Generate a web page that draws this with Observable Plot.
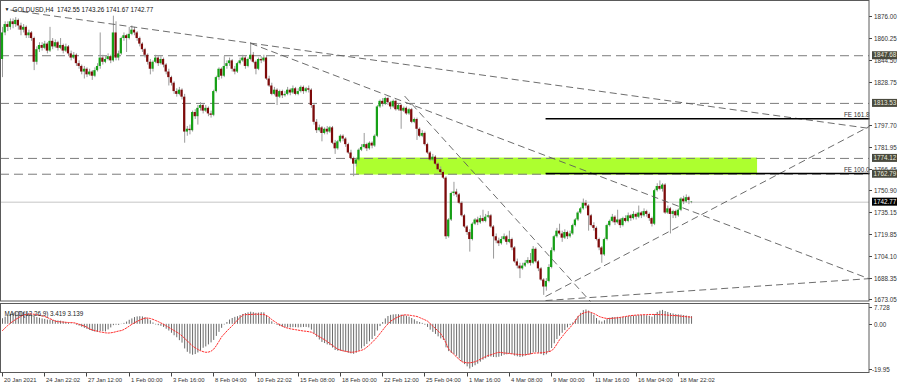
<!DOCTYPE html>
<html><head><meta charset="utf-8">
<script src="https://cdn.jsdelivr.net/npm/d3@7"></script>
<script src="https://cdn.jsdelivr.net/npm/@observablehq/plot@0.6"></script>
<style>
body{margin:0;background:#fff}
#chart{position:relative;width:900px;height:387px;overflow:hidden;background:#fff}
#chart svg{position:absolute;left:0;background:transparent}
</style></head><body><div id="chart"></div>
<script>
// ---------------- DATA ----------------
const symbolName = "GOLDUSD,H4";
const lastQuote = ["1742.55", "1743.26", "1741.67", "1742.77"];

const opens = [
1845,1864,1870,1868,1872,1870,1873,1869,1866,1868,
1862,1864,1860,1843,1852,1855,1853,1856,1851,1858,
1854,1857,1853,1855,1851,1854,1849,1846,1848,1842,
1840,1836,1838,1834,1836,1833,1837,1840,1846,1843,
1845,1847,1844,1864,1846,1849,1860,1862,1860,1863,
1866,1864,1860,1856,1852,1848,1843,1838,1843,1846,
1842,1845,1841,1836,1832,1828,1822,1820,1823,1818,
1793,1795,1794,1807,1804,1810,1812,1808,1810,1806,
1805,1822,1832,1838,1833,1840,1842,1844,1838,1836,
1842,1844,1846,1840,1845,1848,1843,1838,1845,1844,
1846,1831,1826,1820,1823,1818,1822,1819,1820,1823,
1821,1824,1820,1822,1825,1822,1824,1823,1812,1800,
1794,1796,1792,1795,1793,1796,1785,1781,1786,1790,
1788,1784,1778,1774,1770,1773,1780,1782,1784,1781,
1785,1783,1790,1811,1815,1813,1817,1814,1811,1815,
1809,1812,1808,1810,1806,1809,1800,1802,1795,1790,
1792,1784,1778,1773,1775,1770,1766,1764,1760,1718,
1730,1749,1750,1748,1742,1733,1725,1721,1716,1727,
1730,1728,1731,1729,1732,1733,1725,1718,1715,1713,
1716,1718,1714,1716,1710,1700,1697,1695,1697,1699,
1701,1699,1709,1700,1695,1687,1682,1686,1696,1708,
1718,1722,1720,1717,1721,1718,1720,1726,1730,1735,
1738,1742,1740,1733,1726,1724,1716,1710,1705,1716,
1726,1729,1732,1728,1730,1726,1731,1729,1733,1731,
1734,1732,1735,1733,1736,1734,1731,1727,1751,1754,
1752,1755,1735,1738,1734,1736,1733,1737,1745,1743,
1746,1742.55];
const highs = [
1868,1872,1872,1874,1874,1875,1874,1871,1870,1869,
1866,1865,1861,1854,1857,1857,1858,1857,1868,1860,
1859,1858,1860,1856,1856,1855,1851,1850,1849,1844,
1841,1840,1839,1838,1837,1839,1842,1864,1848,1847,
1849,1848,1876,1872,1851,1861,1864,1863,1868,1869,
1868,1865,1861,1857,1853,1849,1845,1844,1848,1847,
1847,1846,1842,1838,1833,1829,1824,1825,1824,1820,
1797,1798,1808,1809,1812,1814,1813,1812,1811,1808,
1823,1833,1839,1839,1847,1844,1846,1845,1840,1843,
1846,1848,1847,1846,1857,1850,1844,1846,1847,1848,
1847,1833,1828,1825,1824,1823,1823,1822,1825,1824,
1826,1825,1824,1826,1826,1825,1826,1824,1813,1802,
1798,1797,1796,1797,1797,1797,1787,1787,1791,1791,
1789,1785,1780,1775,1774,1781,1784,1792,1785,1786,
1786,1791,1812,1816,1817,1818,1818,1815,1816,1816,
1813,1813,1811,1811,1810,1810,1803,1803,1796,1794,
1793,1785,1779,1777,1776,1771,1768,1765,1761,1731,
1750,1757,1752,1749,1743,1734,1726,1723,1728,1731,
1732,1733,1737,1734,1736,1734,1726,1720,1717,1718,
1720,1719,1722,1717,1711,1702,1699,1699,1701,1703,
1706,1711,1710,1701,1696,1688,1688,1698,1710,1719,
1724,1727,1722,1723,1722,1722,1727,1731,1736,1739,
1745,1744,1741,1734,1728,1725,1717,1711,1717,1727,
1730,1734,1733,1737,1731,1732,1733,1735,1734,1736,
1735,1740,1736,1738,1737,1735,1732,1752,1756,1758,
1756,1756,1740,1739,1737,1737,1738,1746,1747,1748,
1747,1743.26];
const lows = [
1832,1862,1865,1866,1867,1868,1866,1862,1864,1860,
1860,1858,1837,1841,1850,1851,1852,1849,1850,1852,
1853,1851,1852,1849,1850,1847,1844,1845,1840,1838,
1834,1831,1832,1833,1830,1832,1836,1838,1841,1842,
1844,1842,1843,1844,1844,1848,1858,1850,1859,1862,
1862,1858,1854,1850,1846,1841,1834,1836,1842,1840,
1841,1839,1834,1826,1826,1820,1818,1819,1816,1785,
1790,1791,1793,1802,1798,1808,1806,1807,1804,1803,
1804,1821,1830,1831,1832,1838,1840,1836,1834,1835,
1841,1843,1838,1839,1844,1842,1834,1837,1842,1843,
1830,1825,1819,1819,1812,1817,1817,1818,1819,1819,
1820,1819,1819,1821,1820,1821,1821,1810,1798,1792,
1793,1786,1791,1791,1792,1784,1777,1780,1785,1786,
1782,1777,1773,1761,1768,1772,1779,1781,1779,1780,
1781,1782,1789,1810,1811,1812,1812,1809,1810,1808,
1808,1795,1807,1805,1805,1799,1799,1787,1789,1789,
1783,1777,1772,1772,1769,1765,1763,1759,1716,1717,
1729,1747,1746,1741,1732,1724,1719,1707,1715,1726,
1726,1727,1728,1728,1731,1724,1702,1713,1711,1712,
1715,1712,1713,1708,1699,1695,1688,1694,1696,1698,
1697,1698,1699,1693,1686,1676,1679,1685,1695,1707,
1717,1719,1714,1716,1716,1717,1719,1725,1729,1734,
1737,1738,1722,1725,1722,1715,1708,1699,1704,1715,
1725,1728,1726,1727,1724,1725,1728,1728,1729,1730,
1730,1731,1731,1732,1732,1729,1725,1726,1750,1751,
1750,1734,1734,1720,1731,1731,1732,1736,1741,1742,
1741,1741.67];
const closes = [
1864,1870,1868,1872,1870,1873,1869,1866,1868,1862,
1864,1860,1843,1852,1855,1853,1856,1851,1858,1854,
1857,1853,1855,1851,1854,1849,1846,1848,1842,1840,
1836,1838,1834,1836,1833,1837,1840,1846,1843,1845,
1847,1844,1864,1846,1849,1860,1862,1860,1863,1866,
1864,1860,1856,1852,1848,1843,1838,1843,1846,1842,
1845,1841,1836,1832,1828,1822,1820,1823,1818,1793,
1795,1794,1807,1804,1810,1812,1808,1810,1806,1805,
1822,1832,1838,1833,1840,1842,1844,1838,1836,1842,
1844,1846,1840,1845,1848,1843,1838,1845,1844,1846,
1831,1826,1820,1823,1818,1822,1819,1820,1823,1821,
1824,1820,1822,1825,1822,1824,1823,1812,1800,1794,
1796,1792,1795,1793,1796,1785,1781,1786,1790,1788,
1784,1778,1774,1770,1773,1780,1782,1784,1781,1785,
1783,1790,1811,1815,1813,1817,1814,1811,1815,1809,
1812,1808,1810,1806,1809,1800,1802,1795,1790,1792,
1784,1778,1773,1775,1770,1766,1764,1760,1718,1730,
1749,1750,1748,1742,1733,1725,1721,1716,1727,1730,
1728,1731,1729,1732,1733,1725,1718,1715,1713,1716,
1718,1714,1716,1710,1700,1697,1695,1697,1699,1701,
1699,1709,1700,1695,1687,1682,1686,1696,1708,1718,
1722,1720,1717,1721,1718,1720,1726,1730,1735,1738,
1742,1740,1733,1726,1724,1716,1710,1705,1716,1726,
1729,1732,1728,1730,1726,1731,1729,1733,1731,1734,
1732,1735,1733,1736,1734,1731,1727,1751,1754,1752,
1755,1735,1738,1734,1736,1733,1737,1745,1743,1746,
1744,1742.77];

// MACD(12,26,9) histogram and signal
const macdMain = [
2.5,3.2,3.8,4.4,4.9,5.3,5.5,5.6,5.4,5.2,
4.8,4.3,3.4,3.0,2.7,
2.4,2.2,1.9,1.9,1.7,1.6,1.5,1.4,1.1,0.8,0.5,0.2,
-0.1,-0.4,-0.8,-1.3,
-1.8,-2.3,-2.7,-3.2,-3.5,-3.6,-3.2,-3.3,-3.4,-2.5,-1.6,
-0.6,-0.4,-0.5,-0.1,0.4,
1.0,1.8,2.4,3.0,
3.3,3.4,3.3,3.0,2.4,1.6,
0.6,-0.3,-0.6,-0.9,-1.4,-2.2,-3.0,
-4.0,-5.1,-6.0,-7.3,-8.4,-11.0,-12.5,-13.3,
-13.8,-13.5,
-12.8,-11.9,-10.7,-10.1,-9.2,-8.3,-7.2,-5.4,-3.6,-1.8,
-0.3,0.8,1.9,2.6,3.1,3.4,3.9,
4.4,4.8,5.1,5.4,5.2,4.9,5.0,5.2,5.1,3.9,
2.6,1.1,0.2,-0.5,
-1.0,-1.3,-1.5,-1.6,-1.6,-1.5,-1.5,-1.6,-1.5,-1.4,-1.4,-1.6,-2.6,
-4.3,-5.8,-7.0,-8.1,-8.6,-9.2,-9.5,-10.6,-11.7,-12.0,
-12.0,-12.3,-12.5,-12.9,-13.2,-13.4,-12.9,
-12.0,-11.0,-10.0,-9.0,-7.8,-6.8,-5.4,-3.0,
-1.0,0.8,2.4,3.5,
4.0,4.2,4.3,4.3,4.1,4.0,3.6,3.2,2.6,2.0,
1.2,0.8,0.4,-0.4,-1.4,
-2.6,-3.6,-4.5,-5.6,-6.5,-7.2,-10.5,
-12.2,-13.0,-13.5,-14.3,-15.4,-16.8,-18.0,-19.0,-19.95,-19.2,
-18.5,-17.8,-16.9,-16.0,-15.4,-14.8,-14.6,
-14.8,-14.9,-14.7,-14.3,-13.8,-13.6,-13.3,-13.5,-14.2,-14.5,
-14.8,-14.6,-14.2,-13.8,-13.6,-12.8,-12.6,-12.9,-13.5,-14.0,-13.6,
-12.6,-10.8,-8.7,-6.8,-5.3,-4.0,-2.8,
-1.6,-0.6,0.6,
2.0,3.5,4.9,6.1,6.4,
5.9,5.0,4.0,2.6,1.5,
1.0,1.6,2.3,2.7,3.0,3.0,3.1,2.9,3.1,
3.2,3.5,3.6,3.7,3.8,3.9,4.0,3.9,3.8,3.6,3.2,4.3,5.3,
5.9,6.2,5.7,5.3,
4.8,4.6,4.3,4.2,4.1,3.9,3.7,3.5,3.419];
const macdSignal = [
-2.8,-1.6,-0.5,0.5,1.4,2.2,2.9,3.6,4.2,
4.4,4.6,4.6,4.5,4.3,4.1,3.8,3.5,
3.0,2.5,2.0,1.4,1.2,1.1,1.0,0.9,0.8,0.8,0.7,
0.4,0.0,-0.4,-0.8,-1.3,-2.1,-2.5,-2.8,-3.1,-3.4,-3.6,-3.8,-3.9,
-3.8,-3.6,-3.3,-3.0,-2.8,-2.3,-1.6,-0.8,0.0,0.7,
1.3,1.9,2.4,2.7,2.8,2.6,2.2,1.7,
1.2,0.6,0.0,-0.7,-1.4,-2.1,-2.8,-3.5,-4.2,
-5.2,-6.3,-7.4,-8.6,-9.7,-10.5,-11.2,-11.8,-12.2,-12.5,
-12.4,-12.0,-11.1,-9.5,-7.6,-5.6,-4.3,-3.0,-1.8,-0.7,
0.6,1.9,3.0,4.2,4.3,4.4,4.4,4.5,4.5,4.5,4.4,4.4,
3.9,3.2,2.1,1.3,0.5,-0.2,-0.8,-1.4,
-1.7,-2.0,-2.2,-2.4,-2.6,-2.8,-3.0,-3.1,-3.3,-3.5,
-4.1,-4.8,-5.5,-6.2,-6.9,-7.7,-8.6,-9.4,-10.3,-11.1,
-11.5,-11.8,-12.1,-12.3,-12.5,-12.4,-12.2,-11.9,-11.6,-11.1,
-10.2,-9.2,-8.1,-6.9,-5.6,-4.1,-2.6,-1.1,0.2,1.4,
2.1,2.8,3.4,3.9,4.2,4.2,4.1,3.9,3.7,3.5,
3.0,2.5,2.0,1.4,0.3,-0.8,-1.9,-3.0,-4.2,-6.0,-8.4,-11.1,
-12.3,-13.5,-14.6,-15.7,-16.7,-17.0,-17.2,-17.2,-17.0,-16.7,
-16.2,-15.6,-15.0,-14.4,-13.9,-13.6,-13.2,-12.8,-12.5,
-12.6,-12.8,-12.9,-13.0,-13.2,-13.3,-13.4,-13.5,-13.6,-13.6,-13.4,-13.2,-12.9,
-12.8,-12.8,-12.7,-12.6,-12.4,-12.2,-11.8,-10.6,-8.8,-6.9,
-5.5,-4.0,-2.6,-1.4,0.0,1.5,3.5,4.4,5.0,5.4,5.6,
5.3,4.8,4.2,3.5,3.1,2.8,2.6,2.6,2.7,2.8,
2.9,3.1,3.3,3.5,3.7,3.9,4.0,4.1,4.2,4.2,4.3,4.3,4.4,4.4,4.4,4.4,
4.3,4.3,4.2,4.1,4.0,3.9,3.9,3.8,3.6,3.5,3.4,3.3,3.139];
const macdTitle = "MACD(12,26,9) 3.419 3.139";

// time axis (bar index of each label)
const dateLabels = ["20 Jan 2021","24 Jan 22:02","27 Jan 12:00","1 Feb 00:00","3 Feb 16:00","8 Feb 04:00","10 Feb 22:02","15 Feb 08:00","18 Feb 00:00","22 Feb 12:00","25 Feb 04:00","1 Mar 16:00","4 Mar 08:00","9 Mar 00:00","11 Mar 16:00","16 Mar 04:00","18 Mar 22:02"];
const dateLabelBars = [0,16,32,48,64,80,96,112,128,144,160,176,192,208,224,240,256];

// price axis
const priceTicks = [1876.00,1860.25,1844.50,1828.75,1797.70,1781.95,1766.45,1750.90,1735.15,1719.85,1704.10,1688.35,1673.05];
const priceTickLabels = ["1876.00","1860.25","1844.50","1828.75","1797.70","1781.95","1766.45","1750.90","1735.15","1719.85","1704.10","1688.35","1673.05"];
const macdTicks = [7.728, 0, -19.95];
const macdTickLabels = ["7.728","0.00","-19.95"];

// horizontal levels with price tags
const levelPrices = [1847.68, 1813.53, 1774.12, 1762.79];
const levelLabels = ["1847.68", "1813.53", "1774.12", "1762.79"];
const currentPrice = 1742.77;
const currentPriceLabel = "1742.77";

// trend lines (bar index / price of both ends)
const trendStartBar   = [3, 94, 152.3, 205.7, 205.7];
const trendStartPrice = [1880.4, 1856.5, 1818.8, 1675.2, 1672.3];
const trendEndBar     = [328.4, 328.4, 222.7, 328.4, 328.4];
const trendEndPrice   = [1795.6, 1687.8, 1671.6, 1797.1, 1688.0];

// Fibonacci expansion lines
const feLabels = ["FE 161.8", "FE 100.0"];
const fePrices = [1802.6, 1763.3];
const feStartBar = [205.7, 205.7];
const feEndBar = [328.4, 328.4];

// highlighted zone
const zoneStartBar = [134.1];
const zoneEndBar = [286];
const zoneLow = [1762.2];
const zoneHigh = [1774.4];

// ---------------- CHART ----------------
const FONT = "'Liberation Sans', Arial, sans-serif";
const xDomain = [-0.76, 328.4];
const n = Math.min(opens.length, highs.length, lows.length, closes.length);
const bars = d3.range(n).map(i => ({i, o: opens[i], h: highs[i], l: lows[i], c: closes[i]}));
const mN = Math.min(macdMain.length, macdSignal.length);
const macdRows = d3.range(mN).map(i => ({i, v: macdMain[i], s: macdSignal[i]}));
const trendRows = trendStartBar.map((b, k) => ({x1: b, y1: trendStartPrice[k], x2: trendEndBar[k], y2: trendEndPrice[k]}));
const feRows = feLabels.map((t, k) => ({t, p: fePrices[k], x1: feStartBar[k], x2: feEndBar[k]}));
const zoneRows = zoneStartBar.map((b, k) => ({x1: b, x2: zoneEndBar[k], y1: zoneLow[k], y2: zoneHigh[k]}));

function frameMark(top, bottom) {
  return (index, scales, values, dims) => {
    const r = dims.width - dims.marginRight;
    return d3.create("svg:rect").attr("x", 0.5).attr("y", top).attr("width", r - 0.5).attr("height", bottom - top)
      .attr("fill", "none").attr("stroke", "#5a5a5a").attr("stroke-width", 1).node();
  };
}

function textGroup(size) {
  return d3.create("svg:g").attr("font-family", FONT).attr("font-size", size).attr("text-anchor", "start");
}

function priceAxis(index, scales, values, dims) {
  const g = textGroup(6.3);
  const x0 = dims.width - dims.marginRight;
  priceTicks.forEach((v, k) => {
    const y = Math.round(scales.y(v)) + 0.5;
    g.append("line").attr("x1", x0).attr("x2", x0 + 3).attr("y1", y).attr("y2", y).attr("stroke", "#444");
    g.append("text").attr("x", x0 + 5).attr("y", y).attr("dy", "0.35em").attr("fill", "#333").text(priceTickLabels[k]);
  });
  const tags = levelPrices.map((v, k) => ({v, t: levelLabels[k], fill: "#4a4a3e", color: "#ececdf"}))
    .concat([{v: currentPrice, t: currentPriceLabel, fill: "#000", color: "#fff"}]);
  for (const tg of tags) {
    const y = scales.y(tg.v);
    g.append("rect").attr("x", x0 + 3).attr("y", y - 4).attr("width", 25).attr("height", 8).attr("fill", tg.fill);
    g.append("text").attr("x", x0 + 4.5).attr("y", y).attr("dy", "0.35em").attr("fill", tg.color).text(tg.t);
  }
  return g.node();
}

function macdAxis(index, scales, values, dims) {
  const g = textGroup(6.3);
  const x0 = dims.width - dims.marginRight;
  macdTicks.forEach((v, k) => {
    const y = Math.round(scales.y(v)) + 0.5;
    g.append("line").attr("x1", x0).attr("x2", x0 + 3).attr("y1", y).attr("y2", y).attr("stroke", "#444");
    g.append("text").attr("x", x0 + (v < 0 ? 3 : 5)).attr("y", y).attr("dy", "0.35em").attr("fill", "#333").text(macdTickLabels[k]);
  });
  return g.node();
}

function dateAxis(bottom) {
  return (index, scales, values, dims) => {
    const g = textGroup(5.9);
    dateLabelBars.forEach((b, k) => {
      const x = Math.round(scales.x(b)) + 0.5;
      g.append("line").attr("x1", x).attr("x2", x).attr("y1", bottom).attr("y2", bottom + 4).attr("stroke", "#444");
      g.append("text").attr("x", x + 1.5).attr("y", bottom + 7.5).attr("dy", "0.35em").attr("fill", "#333").text(dateLabels[k]);
    });
    return g.node();
  };
}

const mainPlot = Plot.plot({
  width: 900, height: 302,
  marginLeft: 0, marginRight: 31, marginTop: 0, marginBottom: 0,
  x: {domain: xDomain, axis: null},
  y: {domain: [1673.05, 1876.00], range: [299, 15.7], axis: null},
  style: {background: "transparent", overflow: "visible"},
  marks: [
    Plot.rect(zoneRows, {x1: "x1", x2: "x2", y1: "y1", y2: "y2", fill: "#adff2f"}),
    Plot.ruleY([currentPrice], {stroke: "#c6c6c6", strokeWidth: 1}),
    Plot.ruleY(levelPrices, {stroke: "#7c7c7c", strokeWidth: 1, strokeDasharray: "9,5"}),
    Plot.ruleX(bars, {x: "i", y1: "l", y2: "h", stroke: "#9a9a9a", strokeWidth: 1}),
    Plot.rect(bars, {x1: d => d.i - 0.42, x2: d => d.i + 0.42, y1: "o", y2: "c",
      fill: d => d.c >= d.o ? "#15a015" : "#7e0a0a"}),
    Plot.link(trendRows, {x1: "x1", y1: "y1", x2: "x2", y2: "y2", stroke: "#5c5c5c", strokeWidth: 0.9, strokeDasharray: "7,4"}),
    Plot.link(feRows, {x1: "x1", y1: "p", x2: "x2", y2: "p", stroke: "#000", strokeWidth: 1.5}),
    Plot.text(feRows, {x: "x2", y: "p", text: "t", textAnchor: "end", dx: 0, dy: -4, fontSize: 6.3, fontFamily: FONT, fill: "#333"}),
    Plot.text([`${symbolName}  ${lastQuote.join(" ")}`], {frameAnchor: "top-left", dx: 12, dy: 7.5, textAnchor: "start", fontSize: 6.3, fontFamily: FONT, fill: "#111"}),
    Plot.text(["\u25BC"], {frameAnchor: "top-left", dx: 4, dy: 6.5, textAnchor: "start", fontSize: 5, fill: "#111"}),
    priceAxis,
    frameMark(0.5, 301)
  ]
});

const macdPlot = Plot.plot({
  width: 900, height: 85,
  marginLeft: 0, marginRight: 31, marginTop: 0, marginBottom: 0,
  x: {domain: xDomain, axis: null},
  y: {domain: [-19.95, 7.728], range: [66.5, 4.5], axis: null},
  style: {background: "transparent", overflow: "visible"},
  marks: [
    Plot.ruleX(macdRows, {x: "i", y1: 0, y2: "v", stroke: "#6a6a6a", strokeWidth: 1}),
    Plot.line(macdRows, {x: "i", y: "s", stroke: "#ff2d2d", strokeWidth: 1, strokeDasharray: "1.5,1.5"}),
    Plot.text([macdTitle], {frameAnchor: "top-left", dx: 4, dy: 9, textAnchor: "start", fontSize: 6.3, fontFamily: FONT, fill: "#222"}),
    macdAxis,
    dateAxis(70.5),
    frameMark(1.5, 70.5)
  ]
});

const holder = document.getElementById("chart");
mainPlot.style.top = "0px";
macdPlot.style.top = "302px";
holder.appendChild(mainPlot);
holder.appendChild(macdPlot);
</script>
</body></html>
